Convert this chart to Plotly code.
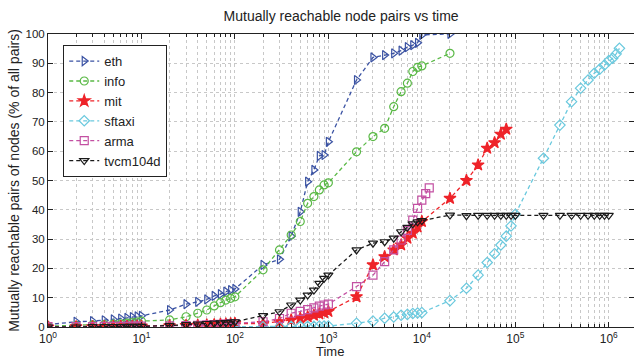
import plotly.graph_objects as go

# ---- data (time in seconds, value in % of all pairs) ----
eth_t = [1, 2, 3, 4, 5, 6, 7, 8, 9, 10,
         20, 30, 40, 50, 60, 70, 80, 90, 100,
         200, 300, 400, 500, 600, 700, 800, 900, 1000,
         2000, 3000, 4000, 5000, 6000, 7000, 8000, 9000, 10000,
         20000]
eth_v = [0.8, 1.8, 2.0, 2.3, 2.6, 2.9, 3.1, 3.4, 3.6, 3.8,
         5.8, 7.8, 8.6, 9.4, 10.6, 11.2, 12.1, 12.6, 13.0,
         21.2, 23.1, 31.0, 39.3, 49.6, 53.6, 58.4, 58.7, 63.2,
         84.3, 92.0, 92.8, 93.4, 94.3, 95.5, 96.2, 97.0, 99.7,
         100.0]

info_t = eth_t
info_v = [0.3, 0.5, 0.7, 0.8, 1.0, 1.1, 1.3, 1.5, 1.7, 2.0,
          2.4, 3.5, 4.7, 5.8, 7.2, 8.3, 9.2, 9.8, 10.3,
          19.5, 26.3, 31.4, 36.0, 42.2, 44.5, 46.8, 48.5, 49.2,
          59.8, 65.0, 67.8, 75.2, 80.3, 83.2, 87.2, 88.6, 89.1,
          93.4]

mit_t = [1, 2, 3, 4, 5, 6, 7, 8, 9, 10,
         20, 30, 40, 50, 60, 70, 80, 90, 100,
         200, 300, 400, 500, 600, 700, 800, 900, 1000,
         2000, 3000, 4000, 5000, 6000, 7000, 8000, 9000, 10000,
         20000, 30000, 40000, 50000, 60000, 70000, 80000]
mit_v = [0.0, 0.1, 0.1, 0.1, 0.2, 0.2, 0.2, 0.2, 0.3, 0.3,
         0.4, 0.5, 0.6, 0.7, 0.8, 0.9, 1.0, 1.1, 1.2,
         1.2, 1.8, 2.4, 3.0, 3.5, 4.0, 4.5, 4.9, 5.3,
         10.3, 21.2, 24.0, 26.3, 28.0, 30.3, 32.0, 34.2, 36.0,
         43.9, 50.0, 55.3, 61.0, 62.9, 65.8, 67.5]

sftaxi_t = [100,
            200, 300, 400, 500, 600, 700, 800, 900, 1000,
            2000, 3000, 4000, 5000, 6000, 7000, 8000, 9000, 10000,
            20000, 30000, 40000, 50000, 60000, 70000, 80000, 90000, 100000,
            200000, 300000, 400000, 500000, 600000, 700000, 800000, 900000, 1000000,
            1100000, 1200000, 1300000]
sftaxi_v = [0.1,
            0.1, 0.1, 0.2, 0.2, 0.2, 0.2, 0.3, 0.3, 0.3,
            1.3, 2.0, 3.0, 3.4, 4.0, 4.3, 4.6, 4.8, 4.9,
            9.0, 13.2, 17.7, 22.0, 25.0, 28.0, 31.0, 34.5, 38.5,
            57.6, 68.9, 76.9, 81.5, 84.3, 86.6, 88.0, 89.4, 90.9,
            91.7, 93.2, 95.1]

arma_t = [1, 2, 3, 4, 5, 6, 7, 8, 9, 10,
          20, 30, 40, 50, 60, 70, 80, 90, 100,
          200, 300, 400, 500, 600, 700, 800, 900, 1000,
          2000, 3000, 4000, 5000, 6000, 7000, 8000, 9000, 10000,
          11000, 12000]
arma_v = [0.1, 0.1, 0.1, 0.2, 0.2, 0.2, 0.2, 0.3, 0.3, 0.3,
          0.4, 0.5, 0.6, 0.7, 0.8, 0.9, 1.0, 1.1, 1.2,
          1.8, 2.9, 4.7, 5.3, 5.9, 6.5, 7.1, 7.5, 7.8,
          13.8, 17.7, 22.3, 26.3, 29.7, 33.0, 36.5, 40.5, 43.3,
          45.5, 47.5]

tvcm_t = [1, 2, 3, 4, 5, 6, 7, 8, 9, 10,
          20, 30, 40, 50, 60, 70, 80, 90, 100,
          200, 300, 400, 500, 600, 700, 800, 900, 1000,
          2000, 3000, 4000, 5000, 6000, 7000, 8000, 9000, 10000,
          20000, 30000, 40000, 50000, 60000, 70000, 80000, 90000, 100000,
          200000, 300000, 400000, 500000, 600000, 700000, 800000, 900000, 1000000]
tvcm_v = [0.0, 0.0, 0.1, 0.1, 0.1, 0.1, 0.2, 0.2, 0.2, 0.2,
          0.5, 0.8, 1.0, 1.2, 1.3, 1.4, 1.5, 1.7, 1.8,
          3.9, 5.2, 7.5, 9.2, 10.9, 12.6, 14.9, 16.6, 17.7,
          26.3, 28.6, 29.1, 30.3, 32.5, 34.0, 35.2, 35.9, 36.3,
          38.2, 38.0, 38.1, 38.1, 38.1, 38.1, 38.1, 38.1, 38.1,
          38.1, 38.1, 38.1, 38.1, 38.1, 38.1, 38.1, 38.1, 38.1]

series = [
    ("eth", eth_t, eth_v, "#3A52A3", "triangle-right-open"),
    ("info", info_t, info_v, "#5AB946", "circle-open"),
    ("mit", mit_t, mit_v, "#EE2329", "star"),
    ("sftaxi", sftaxi_t, sftaxi_v, "#6AC9DE", "diamond-open"),
    ("arma", arma_t, arma_v, "#C350A2", "square-open"),
    ("tvcm104d", tvcm_t, tvcm_v, "#1A1A1A", "triangle-down-open"),
]

x_tick_vals = [1, 10, 100, 1000, 10000, 100000, 1000000]
x_tick_text = ["10<sup>0</sup>", "10<sup>1</sup>", "10<sup>2</sup>", "10<sup>3</sup>",
               "10<sup>4</sup>", "10<sup>5</sup>", "10<sup>6</sup>"]
y_tick_vals = [0, 10, 20, 30, 40, 50, 60, 70, 80, 90, 100]

minor_vals = [m * 10 ** e for e in range(0, 7) for m in range(2, 10)]

fig = go.Figure()
for name, t, v, col, sym in series:
    fig.add_trace(go.Scatter(
        x=t, y=v, name=name, mode="lines+markers",
        line=dict(color=col, width=1.3, dash="4px,3px"),
        marker=dict(symbol=sym, size=8 if sym != "star" else 9, color=col,
                    line=dict(color=col, width=1.2)),
    ))

font = "Liberation Sans, Arial, Helvetica, sans-serif"
fig.update_layout(
    width=634, height=361,
    margin=dict(l=48, r=0, t=34, b=34),
    paper_bgcolor="white", plot_bgcolor="white",
    font=dict(family=font, size=12, color="#222"),
    title=dict(text="Mutually reachable node pairs vs time", x=0.538, xanchor="center",
               y=0.955, yanchor="middle", font=dict(size=14, color="#222")),
    legend=dict(x=0.026, y=0.962, xanchor="left", yanchor="top",
                bgcolor="white", bordercolor="#222", borderwidth=1,
                font=dict(size=13, color="#222"), tracegroupgap=0,
                itemwidth=30),
    showlegend=True,
    annotations=[dict(text="Time", xref="paper", yref="paper", x=0.481, y=-0.114,
                      xanchor="center", yanchor="bottom", showarrow=False,
                      borderpad=0, font=dict(size=13, color="#222"))],
)
fig.update_xaxes(
    type="log", range=[0, 6.27],
    tickvals=x_tick_vals, ticktext=x_tick_text,
    ticks="inside", ticklen=5, tickcolor="#222",
    showline=True, linecolor="#222", linewidth=1, mirror="allticks",
    showgrid=True, gridcolor="#c8c8c8", griddash="dot", gridwidth=1,
    minor=dict(tickvals=minor_vals, ticks="inside", ticklen=3, tickcolor="#222",
               showgrid=True, gridcolor="#c8c8c8", griddash="dot", gridwidth=1),
    tickfont=dict(size=12, color="#222"),
    ticklabelstandoff=1,
    zeroline=False,
)
fig.update_yaxes(
    range=[0, 100], tickvals=y_tick_vals,
    ticks="inside", ticklen=5, tickcolor="#222",
    showline=True, linecolor="#222", linewidth=1, mirror="allticks",
    showgrid=True, gridcolor="#c8c8c8", griddash="dot", gridwidth=1,
    title=dict(text="Mutually reachable pairs of nodes (% of all pairs)",
               font=dict(size=14, color="#222"), standoff=2),
    tickfont=dict(size=11.5, color="#222"),
    zeroline=False,
)

fig.write_html("out.html")
